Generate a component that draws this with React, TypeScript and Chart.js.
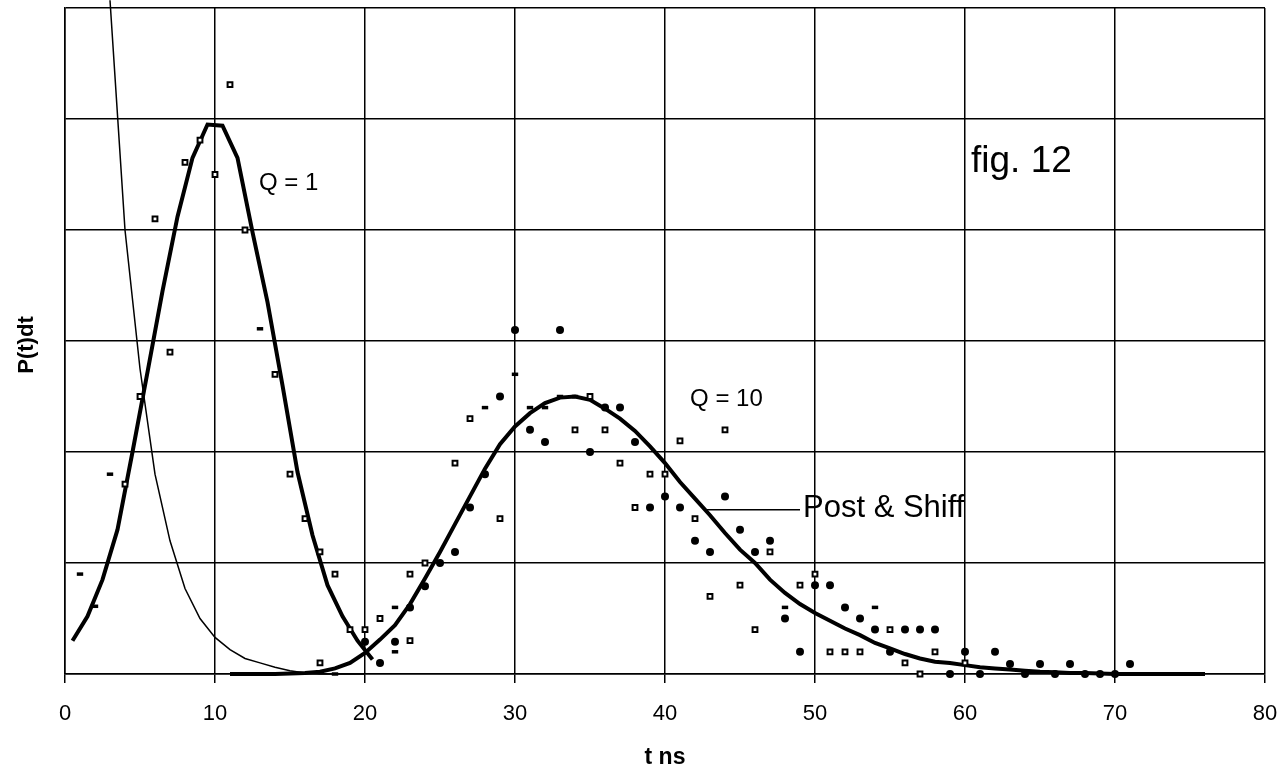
import React, { useEffect, useRef } from "react";
import { Chart, registerables } from "chart.js";

Chart.register(...registerables);

const FONT = "'Liberation Sans', Arial, Helvetica, sans-serif";

// x axis ticks
const X_MIN = 0;
const X_MAX = 80;
const X_STEP = 10;
const Y_MIN = 0;
const Y_MAX = 6;

// thin exponential curve
const thinX = [3, 4, 5, 6, 7, 8, 9, 10, 11, 12, 13, 14, 15, 16, 17, 18, 19, 20];
const thinY = [6.07, 4.0, 2.75, 1.8, 1.2, 0.77, 0.5, 0.33, 0.22, 0.14, 0.1, 0.06, 0.03, 0.01, 0.0, 0.0, 0.0, 0.0];

// Q = 1 curve
const q1X = [0.5, 1.5, 2.5, 3.5, 4.5, 5.5, 6.5, 7.5, 8.5, 9.5, 10.5, 11.5, 12.5, 13.5, 14.5, 15.5, 16.5, 17.5, 18.5, 19.5, 20.5];
const q1Y = [0.3, 0.52, 0.85, 1.3, 2.0, 2.72, 3.45, 4.12, 4.65, 4.95, 4.94, 4.65, 3.98, 3.35, 2.6, 1.82, 1.25, 0.8, 0.52, 0.3, 0.13];

// Q = 10 (Post & Shiff) curve
const q10X = [11, 12, 13, 14, 15, 16, 17, 18, 19, 20, 21, 22, 23, 24, 25, 26, 27, 28, 29, 30, 31, 32, 33, 34, 35, 36, 37, 38, 39, 40, 41, 42, 43, 44, 45, 46, 47, 48, 49, 50, 51, 52, 53, 54, 55, 56, 57, 58, 59, 60, 61, 62, 63, 64, 65, 66, 67, 68, 69, 70, 71, 72, 73, 74, 75, 76];
const q10Y = [0, 0, 0, 0, 0.005, 0.01, 0.02, 0.05, 0.1, 0.19, 0.31, 0.44, 0.63, 0.86, 1.1, 1.35, 1.6, 1.85, 2.07, 2.23, 2.35, 2.44, 2.49, 2.5, 2.47, 2.39, 2.3, 2.19, 2.05, 1.9, 1.73, 1.58, 1.43, 1.27, 1.12, 1.0, 0.85, 0.73, 0.63, 0.55, 0.48, 0.41, 0.35, 0.28, 0.23, 0.18, 0.14, 0.11, 0.1, 0.08, 0.06, 0.05, 0.04, 0.03, 0.02, 0.015, 0.01, 0.01, 0.005, 0, 0, 0, 0, 0, 0, 0];

// hollow square markers
const sqX = [4, 5, 6, 7, 8, 9, 10, 11, 12, 14, 15, 16, 17, 17, 18, 19, 20, 21, 23, 23, 24, 26, 27, 29, 34, 35, 36, 37, 38, 39, 40, 41, 42, 43, 44, 45, 46, 47, 49, 50, 51, 52, 53, 55, 56, 57, 58, 60];
const sqY = [1.71, 2.5, 4.1, 2.9, 4.61, 4.81, 4.5, 5.31, 4.0, 2.7, 1.8, 1.4, 1.1, 0.1, 0.9, 0.4, 0.4, 0.5, 0.3, 0.9, 1.0, 1.9, 2.3, 1.4, 2.2, 2.5, 2.2, 1.9, 1.5, 1.8, 1.8, 2.1, 1.4, 0.7, 2.2, 0.8, 0.4, 1.1, 0.8, 0.9, 0.2, 0.2, 0.2, 0.4, 0.1, 0, 0.2, 0.1];

// filled dot markers
const dotX = [20, 21, 22, 23, 24, 25, 26, 27, 28, 29, 30, 31, 32, 33, 35, 36, 37, 38, 39, 40, 41, 42, 43, 44, 45, 46, 47, 48, 49, 50, 51, 52, 53, 54, 55, 56, 57, 58, 59, 60, 61, 62, 63, 64, 65, 66, 67, 68, 69, 70, 71];
const dotY = [0.29, 0.1, 0.29, 0.6, 0.79, 1.0, 1.1, 1.5, 1.8, 2.5, 3.1, 2.2, 2.09, 3.1, 2.0, 2.4, 2.4, 2.09, 1.5, 1.6, 1.5, 1.2, 1.1, 1.6, 1.3, 1.1, 1.2, 0.5, 0.2, 0.8, 0.8, 0.6, 0.5, 0.4, 0.2, 0.4, 0.4, 0.4, 0, 0.2, 0, 0.2, 0.09, 0, 0.09, 0, 0.09, 0, 0, 0, 0.09];

// small dash markers
const dashX = [1, 2, 3, 13, 18, 22, 22, 28, 30, 31, 32, 33, 34, 48, 54];
const dashY = [0.9, 0.61, 1.8, 3.11, 0, 0.2, 0.6, 2.4, 2.7, 2.4, 2.4, 2.5, 2.5, 0.6, 0.6];

// annotation texts (anchors in data units)
const labelQ1 = { text: "Q = 1", x: 12.93, y: 4.36 };
const labelQ10 = { text: "Q = 10", x: 41.67, y: 2.41 };
const labelFig = { text: "fig. 12", x: 60.4, y: 4.52 };
const labelPS = { text: "Post & Shiff", x: 49.2, y: 1.41 };
const leaderPS = { x1: 42.67, x2: 49.0, y: 1.48 };
const yTitle = "P(t)dt";
const xTitle = "t ns";

const pts = (xs: number[], ys: number[]) => xs.map((x, i) => ({ x, y: ys[i] }));

export default function App() {
  const ref = useRef<HTMLCanvasElement | null>(null);

  useEffect(() => {
    if (!ref.current) return;
    const labelPlugin = {
      id: "figLabels",
      afterDraw(chart: any) {
        const { ctx, scales } = chart;
        const xs = scales.x;
        const ys = scales.y;
        const area = chart.chartArea;
        ctx.save();
        ctx.fillStyle = "#000";
        ctx.strokeStyle = "#000";
        ctx.textAlign = "left";
        ctx.textBaseline = "alphabetic";

        ctx.font = `24px ${FONT}`;
        ctx.fillText(labelQ1.text, xs.getPixelForValue(labelQ1.x), ys.getPixelForValue(labelQ1.y));
        ctx.fillText(labelQ10.text, xs.getPixelForValue(labelQ10.x), ys.getPixelForValue(labelQ10.y));

        ctx.font = `37px ${FONT}`;
        ctx.fillText(labelFig.text, xs.getPixelForValue(labelFig.x), ys.getPixelForValue(labelFig.y));

        ctx.font = `31px ${FONT}`;
        ctx.fillText(labelPS.text, xs.getPixelForValue(labelPS.x), ys.getPixelForValue(labelPS.y));

        ctx.lineWidth = 1.5;
        ctx.beginPath();
        const ly = ys.getPixelForValue(leaderPS.y);
        ctx.moveTo(xs.getPixelForValue(leaderPS.x1), ly);
        ctx.lineTo(xs.getPixelForValue(leaderPS.x2), ly);
        ctx.stroke();

        // axis titles
        ctx.font = `bold 23px ${FONT}`;
        ctx.textAlign = "center";
        ctx.textBaseline = "middle";
        ctx.fillText(xTitle, (area.left + area.right) / 2, 758);

        ctx.font = `bold 22px ${FONT}`;
        ctx.translate(27, (area.top + area.bottom) / 2 + 4);
        ctx.rotate(-Math.PI / 2);
        ctx.fillText(yTitle, 0, 0);
        ctx.restore();
      },
    };

    const chart = new Chart(ref.current, {
      type: "scatter",
      data: {
        datasets: [
          {
            label: "squares",
            data: pts(sqX, sqY),
            pointStyle: "rect",
            pointRadius: 3.4,
            pointBorderWidth: 2,
            pointBorderColor: "#000",
            pointBackgroundColor: "#fff",
            showLine: false,
            clip: false,
          },
          {
            label: "dots",
            data: pts(dotX, dotY),
            pointStyle: "circle",
            pointRadius: 4,
            pointBorderWidth: 0,
            pointBackgroundColor: "#000",
            pointBorderColor: "#000",
            showLine: false,
            clip: false,
          },
          {
            label: "dashes",
            data: pts(dashX, dashY),
            pointStyle: "line",
            pointRadius: 3.2,
            pointBorderWidth: 3.5,
            pointBorderColor: "#000",
            showLine: false,
            clip: false,
          },
          {
            label: "Q=1",
            data: pts(q1X, q1Y),
            showLine: true,
            borderColor: "#000",
            borderWidth: 4,
            pointRadius: 0,
            tension: 0,
            clip: false,
          },
          {
            label: "Q=10",
            data: pts(q10X, q10Y),
            showLine: true,
            borderColor: "#000",
            borderWidth: 4,
            pointRadius: 0,
            tension: 0,
            clip: false,
          },
          {
            label: "thin",
            data: pts(thinX, thinY),
            showLine: true,
            borderColor: "#000",
            borderWidth: 1.5,
            pointRadius: 0,
            tension: 0,
            clip: false,
          },
        ],
      },
      options: {
        responsive: false,
        maintainAspectRatio: false,
        animation: false,
        devicePixelRatio: 1,
        layout: { padding: { top: 8, right: 18, left: 0, bottom: 0 } },
        plugins: {
          legend: { display: false },
          tooltip: { enabled: false },
        },
        scales: {
          x: {
            type: "linear",
            min: X_MIN,
            max: X_MAX,
            ticks: {
              stepSize: X_STEP,
              color: "#000",
              font: { family: FONT, size: 22 },
              padding: 18,
              maxRotation: 0,
            },
            grid: {
              color: "#000",
              lineWidth: 1.5,
              drawTicks: true,
              tickLength: 9,
              tickColor: "#000",
            },
            border: { color: "#000", width: 1.5 },
            afterFit: (s: any) => {
              s.height = 98;
              s.paddingLeft = 0;
              s.paddingRight = 0;
            },
          },
          y: {
            type: "linear",
            min: Y_MIN,
            max: Y_MAX,
            ticks: { stepSize: 1, display: false },
            grid: { color: "#000", lineWidth: 1.5, drawTicks: false },
            border: { color: "#000", width: 1.5 },
            afterFit: (s: any) => {
              s.width = 65;
            },
          },
        },
      },
      plugins: [labelPlugin],
    });
    return () => chart.destroy();
  }, []);

  return (
    <div style={{ position: "absolute", left: 0, top: 0, width: 1283, height: 772, background: "#fff" }}>
      <canvas ref={ref} width={1283} height={772} style={{ display: "block" }} />
    </div>
  );
}
